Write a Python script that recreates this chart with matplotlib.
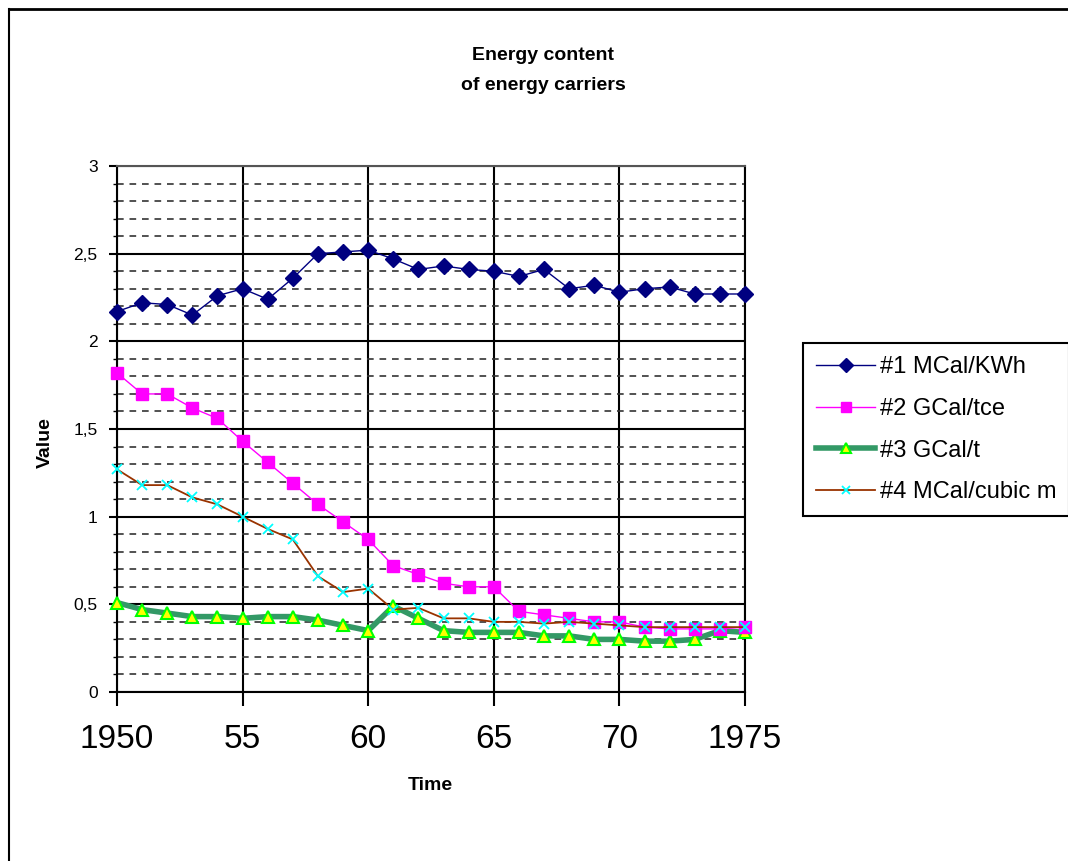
import numpy as np
import matplotlib
matplotlib.use('Agg')
import matplotlib.pyplot as plt
from matplotlib.ticker import MultipleLocator, FixedLocator, FixedFormatter
from matplotlib.lines import Line2D

plt.rcParams['font.family'] = ['Liberation Sans', 'DejaVu Sans']

# Data
years = list(range(1950, 1976))
mcal_kwh = [2.17, 2.22, 2.21, 2.15, 2.26, 2.30, 2.24, 2.36, 2.50, 2.51, 2.52, 2.47, 2.41,
            2.43, 2.41, 2.40, 2.37, 2.41, 2.30, 2.32, 2.28, 2.30, 2.31, 2.27, 2.27, 2.27]
gcal_tce = [1.82, 1.70, 1.70, 1.62, 1.56, 1.43, 1.31, 1.19, 1.07, 0.97, 0.87, 0.72, 0.67,
            0.62, 0.60, 0.60, 0.46, 0.44, 0.42, 0.40, 0.40, 0.37, 0.36, 0.36, 0.36, 0.37]
gcal_t = [0.51, 0.47, 0.45, 0.43, 0.43, 0.42, 0.43, 0.43, 0.41, 0.38, 0.35, 0.49, 0.42,
          0.35, 0.34, 0.34, 0.34, 0.32, 0.32, 0.30, 0.30, 0.29, 0.29, 0.30, 0.35, 0.34]
mcal_m3 = [1.27, 1.18, 1.18, 1.11, 1.07, 1.00, 0.93, 0.87, 0.66, 0.57, 0.59, 0.47, 0.48,
           0.42, 0.42, 0.40, 0.40, 0.39, 0.40, 0.39, 0.38, 0.37, 0.37, 0.37, 0.37, 0.37]

series_labels = ['#1 MCal/KWh', '#2 GCal/tce', '#3 GCal/t', '#4 MCal/cubic m']
x_ticks = [1950, 1955, 1960, 1965, 1970, 1975]
x_tick_labels = ['1950', '55', '60', '65', '70', '1975']
y_ticks = [0, 0.5, 1, 1.5, 2, 2.5, 3]
y_tick_labels = ['0', '0,5', '1', '1,5', '2', '2,5', '3']

W, H = 1068, 861
fig = plt.figure(figsize=(W / 100, H / 100), dpi=100)
ax = fig.add_axes([117 / W, 1 - 692 / H, (745 - 117) / W, (692 - 166) / H])

# outer frame (left and top only, as in the reference)
fig.add_artist(Line2D([9 / W, 9 / W], [0, 1 - 9 / H], color='black', lw=1.5, transform=fig.transFigure))
fig.add_artist(Line2D([9 / W, 1], [1 - 9 / H, 1 - 9 / H], color='black', lw=2, transform=fig.transFigure))

l1, = ax.plot(years, mcal_kwh, color='#000080', lw=1, marker='D', ms=8,
              mfc='#000080', mec='#000080', zorder=5, clip_on=False)
l2, = ax.plot(years, gcal_tce, color='#FF00FF', lw=1, marker='s', ms=8,
              mfc='#FF00FF', mec='#FF00FF', zorder=4, clip_on=False)
l3, = ax.plot(years, gcal_t, color='#339966', lw=4, marker='^', ms=8,
              mfc='#FFFF00', mec='#00FF00', mew=1.5, zorder=3, clip_on=False)
l4, = ax.plot(years, mcal_m3, color='#993300', lw=1.3, marker='x', ms=7,
              mec='#00FFFF', mew=1.3, zorder=6, clip_on=False)

ax.set_xlim(1950, 1975)
ax.set_ylim(0, 3)

ax.xaxis.set_major_locator(FixedLocator(x_ticks))
ax.xaxis.set_major_formatter(FixedFormatter(x_tick_labels))
ax.yaxis.set_major_locator(FixedLocator(y_ticks))
ax.yaxis.set_major_formatter(FixedFormatter(y_tick_labels))
ax.yaxis.set_minor_locator(MultipleLocator(0.1))

ax.grid(which='major', axis='both', color='black', lw=1.5, zorder=1)
ax.grid(which='minor', axis='y', color='#333333', lw=1.2, linestyle=(0, (4, 3.5)), zorder=1)
ax.set_axisbelow(True)

ax.tick_params(axis='x', which='major', direction='out', length=10, width=1.5,
               labelsize=24, pad=13, color='black')
ax.tick_params(axis='y', which='major', direction='out', length=6, width=1.5,
               labelsize=12.5, pad=8)
ax.tick_params(axis='y', which='minor', direction='out', length=3, width=1)

for side in ['left', 'bottom', 'right', 'top']:
    ax.spines[side].set_linewidth(1.5)
    ax.spines[side].set_color('black')
ax.spines['top'].set_color('#555555')

narrow = ['Liberation Sans Narrow', 'Liberation Sans', 'DejaVu Sans']
fig.text(543 / W, 1 - 55 / H, 'Energy content', ha='center', va='center',
         fontsize=14, fontweight='bold', family=narrow)
fig.text(543 / W, 1 - 85 / H, 'of energy carriers', ha='center', va='center',
         fontsize=14, fontweight='bold', family=narrow)
fig.text(430 / W, 1 - 785 / H, 'Time', ha='center', va='center',
         fontsize=14, fontweight='bold', family=narrow)
fig.text(45 / W, 1 - 443 / H, 'Value', ha='center', va='center', rotation=90,
         fontsize=14, fontweight='bold', family=narrow)

leg = fig.legend([l1, l2, l3, l4], series_labels, loc='upper left',
                 bbox_to_anchor=(803 / W, 1 - 343 / H), fontsize=17,
                 frameon=True, fancybox=False, edgecolor='black', framealpha=1,
                 handlelength=2.5, handletextpad=0.2, labelspacing=0.84,
                 borderpad=0.55, borderaxespad=0, markerscale=0.9)
leg.get_frame().set_linewidth(1.5)

plt.savefig('out.png', dpi=100)
